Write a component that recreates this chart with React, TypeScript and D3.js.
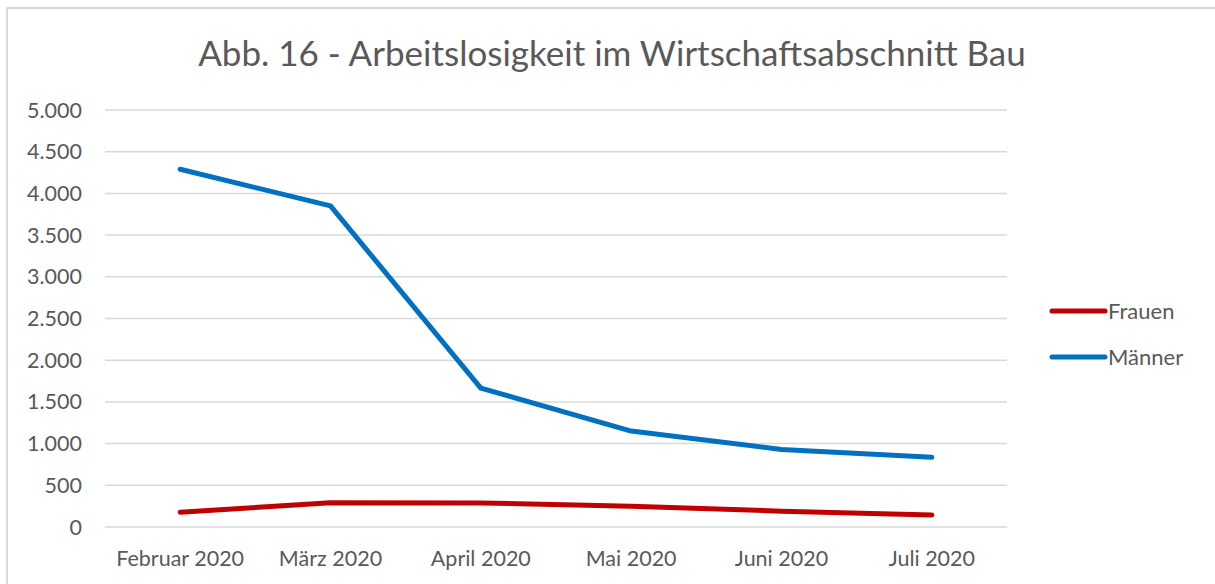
import React from "react";
import * as d3 from "d3";

const categories = ["Februar 2020", "März 2020", "April 2020", "Mai 2020", "Juni 2020", "Juli 2020"];
const frauen = [178, 290, 288, 250, 190, 145];
const maenner = [4290, 3850, 1665, 1150, 930, 835];
const yTicks = [0, 500, 1000, 1500, 2000, 2500, 3000, 3500, 4000, 4500, 5000];
const seriesNames = ["Frauen", "Männer"];
const seriesColors = ["#C00000", "#0070C0"];

const W = 1215;
const H = 584;
const FONT = "Lato, 'Open Sans', sans-serif";

export default function App() {
  const x = d3.scaleBand<string>().domain(categories).range([105, 1007]);
  const y = d3.scaleLinear().domain([0, 5000]).range([527, 110]);
  const fmt = (v: number) => d3.format(",")(v).replace(/,/g, ".");
  const line = d3
    .line<number>()
    .x((_, i) => (x(categories[i]) as number) + x.bandwidth() / 2)
    .y((d) => y(d));
  const series = [frauen, maenner];

  return (
    <svg
      width={W}
      height={H}
      style={{ position: "absolute", left: 0, top: 0, background: "#fff" }}
    >
      <rect x={0} y={0} width={W} height={H} fill="#fff" />
      <rect x={7} y={8} width={W + 20} height={H + 20} fill="none" stroke="#d9d9d9" strokeWidth={2} />
      <text
        x={612}
        y={66}
        textAnchor="middle"
        fontFamily={FONT}
        fontSize={35}
        fill="#595959"
      >
        Abb. 16 - Arbeitslosigkeit im Wirtschaftsabschnitt Bau
      </text>
      {yTicks.map((t) => (
        <g key={t}>
          <line x1={105} x2={1007} y1={y(t)} y2={y(t)} stroke="#d9d9d9" strokeWidth={1.5} />
          <text
            x={82}
            y={y(t)}
            dy="0.35em"
            textAnchor="end"
            fontFamily={FONT}
            fontSize={21.5}
            fill="#595959"
          >
            {fmt(t)}
          </text>
        </g>
      ))}
      {categories.map((c) => (
        <text
          key={c}
          x={(x(c) as number) + x.bandwidth() / 2}
          y={566}
          textAnchor="middle"
          fontFamily={FONT}
          fontSize={21.5}
          fill="#595959"
        >
          {c}
        </text>
      ))}
      {series.map((s, i) => (
        <path
          key={i}
          d={line(s) as string}
          fill="none"
          stroke={seriesColors[i]}
          strokeWidth={5}
          strokeLinecap="round"
          strokeLinejoin="round"
        />
      ))}
      {seriesNames.map((n, i) => (
        <g key={n}>
          <line
            x1={1052}
            x2={1105}
            y1={311 + i * 46}
            y2={311 + i * 46}
            stroke={seriesColors[i]}
            strokeWidth={5}
            strokeLinecap="round"
          />
          <text
            x={1108}
            y={311 + i * 46}
            dy="0.35em"
            fontFamily={FONT}
            fontSize={22}
            fill="#595959"
          >
            {n}
          </text>
        </g>
      ))}
    </svg>
  );
}
